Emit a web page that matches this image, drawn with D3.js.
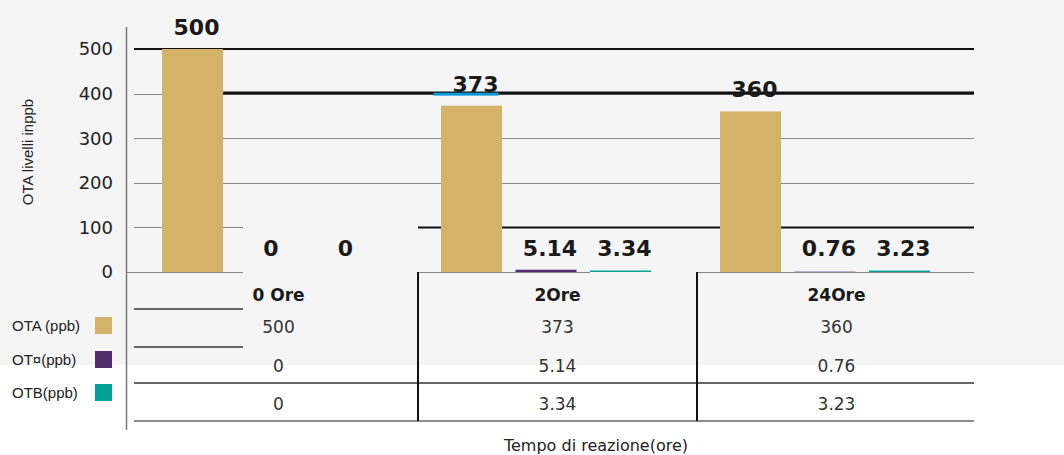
<!DOCTYPE html>
<html>
<head>
<meta charset="utf-8">
<script src="https://cdn.jsdelivr.net/npm/d3@7"></script>
<style>
  html, body { margin: 0; padding: 0; background: #fff; }
  svg { display: block; }
</style>
</head>
<body>
<div id="chart"></div>
<script>
// data
let groups = ["0 Ore", "2Ore", "24Ore"]
let seriesNames = ["OTA (ppb)", "OT¤(ppb)", "OTB(ppb)"]
let seriesColors = ["#d4b26a", "#532d6e", "#00a399"]
let otaValues = [500, 373, 360]
let otAlphaValues = [0, 5.14, 0.76]
let otbValues = [0, 3.34, 3.23]
let yTicks = [0, 100, 200, 300, 400, 500]
let yTitle = "OTA livelli inppb"
let xTitle = "Tempo di reazione(ore)"

let width = 1064
let height = 455
let series = [otaValues, otAlphaValues, otbValues]

let svg = d3.select("#chart")
    .append("svg")
    .attr("width", width)
    .attr("height", height)

// grey backdrop for the upper part
svg.append("rect")
    .attr("x", 0).attr("y", 0)
    .attr("width", width).attr("height", 365)
    .attr("fill", "#f5f5f5")

let y = d3.scaleLinear().domain([0, 500]).range([272, 49])
let x0 = d3.scaleBand().domain(groups).range([139, 976])
let x1 = d3.scaleBand().domain(seriesNames).range([23, 233]).paddingInner(0.18)

let plotLeft = 134
let plotRight = 974
let stubRight = 243

// thin grid lines
let thin = svg.append("g").attr("stroke", "#888").attr("stroke-width", 1)
yTicks.filter(d => d >= 200 && d <= 400).forEach(t => {
    thin.append("line")
        .attr("x1", plotLeft).attr("x2", plotRight)
        .attr("y1", Math.round(y(t)) + 0.5).attr("y2", Math.round(y(t)) + 0.5)
})
thin.append("line")
    .attr("x1", plotLeft).attr("x2", stubRight)
    .attr("y1", Math.round(y(100)) + 0.5).attr("y2", Math.round(y(100)) + 0.5)
// baseline in pieces
let baseSegs = [[126, stubRight], [x0(groups[1]), x0(groups[1]) + x1(seriesNames[2])], [x0(groups[2]), plotRight]]
baseSegs.forEach(s => {
    thin.append("line")
        .attr("x1", s[0]).attr("x2", s[1])
        .attr("y1", Math.round(y(0)) + 0.5).attr("y2", Math.round(y(0)) + 0.5)
})

// the heavy black lines
let heavy = svg.append("g").attr("stroke", "#111")
heavy.append("line")
    .attr("x1", plotLeft).attr("x2", plotRight)
    .attr("y1", y(500)).attr("y2", y(500))
    .attr("stroke-width", 2)
heavy.append("line")
    .attr("x1", x0(groups[0]) + x1(seriesNames[0]) + x1.bandwidth()).attr("x2", plotRight)
    .attr("y1", y(400) - 0.5).attr("y2", y(400) - 0.5)
    .attr("stroke-width", 3)
heavy.append("line")
    .attr("x1", x0(groups[1])).attr("x2", plotRight)
    .attr("y1", y(100)).attr("y2", y(100))
    .attr("stroke-width", 2)

// y axis line
svg.append("line")
    .attr("x1", 126.5).attr("x2", 126.5)
    .attr("y1", 27).attr("y2", 430)
    .attr("stroke", "#777")
    .attr("stroke-width", 1.5)

// y tick labels
svg.selectAll(".ytick")
    .data(yTicks)
    .enter()
    .append("text")
    .attr("x", 113)
    .attr("y", d => y(d))
    .attr("dy", "0.36em")
    .attr("text-anchor", "end")
    .style("font-family", "DejaVu Sans, Verdana, sans-serif")
    .style("font-size", "18px")
    .style("fill", "#222")
    .text(d => d)

// y title
svg.append("text")
    .attr("transform", "translate(33,152) rotate(-90)")
    .attr("text-anchor", "middle")
    .style("font-family", "Liberation Sans, Arial, sans-serif")
    .style("font-size", "15px")
    .style("fill", "#222")
    .text(yTitle)

// bars
let barData = []
groups.forEach((g, i) => {
    seriesNames.forEach((s, j) => {
        barData.push({ group: g, name: s, value: series[j][i], color: seriesColors[j] })
    })
})

svg.selectAll(".bar")
    .data(barData)
    .enter()
    .append("rect")
    .attr("x", d => x0(d.group) + x1(d.name))
    .attr("y", d => y(d.value))
    .attr("width", x1.bandwidth())
    .attr("height", d => y(0) - y(d.value))
    .attr("fill", d => d.color)

// value labels
let labels = svg.selectAll(".vlabel")
    .data(barData)
    .enter()
    .append("text")
    .attr("x", d => x0(d.group) + x1(d.name) + x1.bandwidth() / 2 + 4)
    .attr("y", d => Math.min(y(d.value) - 14, y(0) - 16))
    .attr("text-anchor", "middle")
    .style("font-family", "DejaVu Sans, Verdana, sans-serif")
    .style("font-weight", "bold")
    .style("font-size", "22px")
    .style("fill", "#1a1a1a")
    .text(d => d.value)

// blue underline under the 373 label
labels.filter(d => d.group === groups[1] && d.name === seriesNames[0]).each(function () {
    let b = this.getBBox()
    svg.append("rect")
        .attr("x", b.x - 19).attr("y", b.y + b.height - 4)
        .attr("width", b.width + 19).attr("height", 3)
        .attr("fill", "#0a98d8")
})

// data table
let rowY = [301, 333, 372, 410]
let tableFont = "DejaVu Sans, Verdana, sans-serif"
groups.forEach((g, i) => {
    let cx = x0(g) + x0.bandwidth() / 2
    svg.append("text")
        .attr("x", cx).attr("y", rowY[0])
        .attr("text-anchor", "middle")
        .style("font-family", tableFont)
        .style("font-weight", "bold")
        .style("font-size", "17px")
        .style("fill", "#1a1a1a")
        .text(g)
    series.forEach((vals, j) => {
        svg.append("text")
            .attr("x", cx).attr("y", rowY[j + 1])
            .attr("text-anchor", "middle")
            .style("font-family", tableFont)
            .style("font-size", "17px")
            .style("fill", "#333")
            .text(vals[i])
    })
})

// table rules
let rules = svg.append("g").attr("stroke", "#333").attr("stroke-width", 1.5)
rules.append("line").attr("x1", plotLeft).attr("x2", stubRight).attr("y1", 309).attr("y2", 309)
rules.append("line").attr("x1", plotLeft).attr("x2", stubRight).attr("y1", 347).attr("y2", 347)
rules.append("line").attr("x1", plotLeft).attr("x2", plotRight).attr("y1", 383).attr("y2", 383)
rules.append("line").attr("x1", plotLeft).attr("x2", plotRight).attr("y1", 421).attr("y2", 421)
    .attr("stroke", "#666")
groups.slice(1).forEach(g => {
    rules.append("line")
        .attr("x1", x0(g)).attr("x2", x0(g))
        .attr("y1", y(0)).attr("y2", 421)
        .attr("stroke", "#111").attr("stroke-width", 2)
})

// legend keys
let legendY = [325.5, 359.5, 392.5]
seriesNames.forEach((s, j) => {
    svg.append("text")
        .attr("x", 12).attr("y", legendY[j])
        .attr("dy", "0.35em")
        .style("font-family", "Liberation Sans, Arial, sans-serif")
        .style("font-size", "15px")
        .style("fill", "#222")
        .text(s)
    svg.append("rect")
        .attr("x", 95).attr("y", legendY[j] - 8.5)
        .attr("width", 17).attr("height", 17)
        .attr("fill", seriesColors[j])
})

// x title
svg.append("text")
    .attr("x", 596).attr("y", 451)
    .attr("text-anchor", "middle")
    .style("font-family", "DejaVu Sans, Verdana, sans-serif")
    .style("font-size", "16px")
    .style("fill", "#222")
    .text(xTitle)
</script>
</body>
</html>
